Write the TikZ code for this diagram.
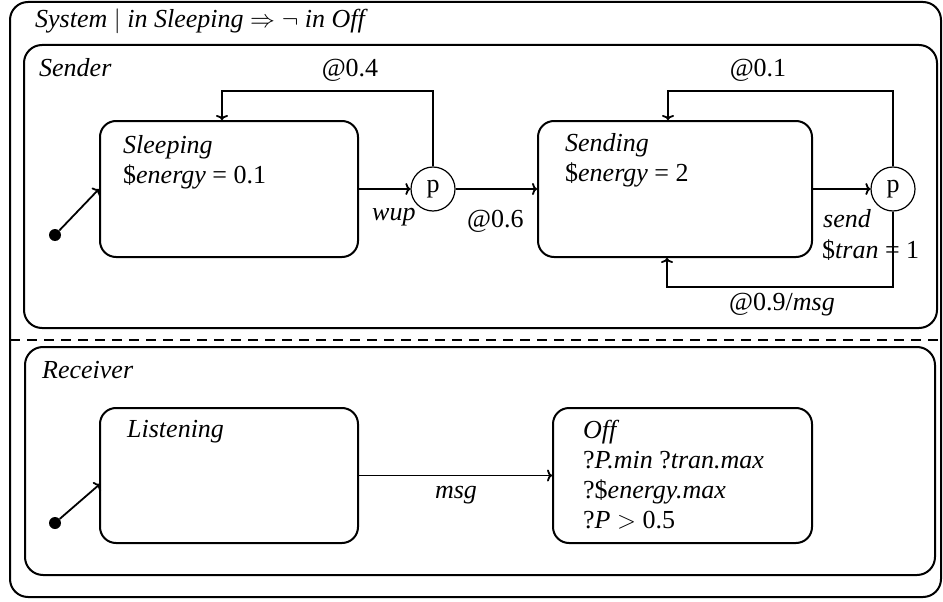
\documentclass[tikz,border=0pt]{standalone}
\usepackage{fontspec}
\setmainfont{Liberation Serif}
\usetikzlibrary{calc,arrows.meta}
\newcommand\bigfs{\fontsize{26}{30}\selectfont}
\begin{document}
\begin{tikzpicture}[x=1pt,y=-1pt,
  box/.style={draw, line width=2pt, rounded corners=16pt, inner sep=0pt},
  region/.style={draw, line width=2pt, rounded corners=18pt, inner sep=0pt},
  pnode/.style={draw, circle, line width=1.2pt, minimum size=44pt, inner sep=0pt, font=\bigfs},
  arr/.style={-{To[length=5pt,width=12pt]}, line width=1.8pt},
  txt/.style={inner sep=0pt, font=\bigfs, align=left},
  initdot/.style={fill, circle, inner sep=0pt, minimum size=12pt}]
\useasboundingbox (0,0) rectangle (943,602);
% containers
\node[region, minimum width=931pt, minimum height=595pt] (system) at (475.5,299.5) {};
\node[region, minimum width=913pt, minimum height=283pt] (sender) at (480.5,186.5) {};
\node[region, minimum width=910pt, minimum height=228pt] (receiver) at (480,461) {};
\coordinate (dl) at (10,340);
\coordinate (dr) at (943,340);
\draw[line width=1.8pt, dash pattern=on 10pt off 7pt] (dl) -- (dr);
% titles
\node[txt, anchor=base west] (systitle) at (35,28) {\textit{System} $|$ \textit{in Sleeping} $\Rightarrow\neg$ \textit{in Off}};
\node[txt, anchor=base west] (sendertitle) at (39,77) {\textit{Sender}};
\node[txt, anchor=base west] (receivertitle) at (42,378) {\textit{Receiver}};
% states
\node[box, minimum width=258pt, minimum height=136pt] (sleeping) at (229,189) {};
\node[box, minimum width=274pt, minimum height=136pt] (sending) at (675,189) {};
\node[box, minimum width=258pt, minimum height=135pt] (listening) at (229,475.5) {};
\node[box, minimum width=259pt, minimum height=135pt] (off) at (682.5,475.5) {};
\node[txt, anchor=north west] (sleepingtxt) at (123,135) {\textit{Sleeping}\\\$\textit{energy} = 0.1};
\node[txt, anchor=north west] (sendingtxt) at (565,133) {\textit{Sending}\\\$\textit{energy} = 2};
\node[txt, anchor=north west] (listeningtxt) at (127,420) {\textit{Listening}};
\node[txt, anchor=north west] (offtxt) at (583,420) {\textit{Off}\\?\textit{P.min} ?\textit{tran.max}\\?\$\textit{energy.max}\\?\textit{P} $>$ 0.5};
% probabilistic choice points
\node[pnode] (p1) at (433,189) {p};
\node[pnode] (p2) at (893,189) {p};
% initial states
\node[initdot] (i1) at (55,235) {};
\node[initdot] (i2) at (55,523) {};
\coordinate (li) at (100,484);
\draw[arr] (i1) -- (sleeping.west);
\draw[arr] (i2) -- (li);
% transitions
\coordinate (l1) at (222,91);
\coordinate (l2) at (668,91);
\coordinate (l3) at (667,287);
\draw[arr] (sleeping) -- (p1);
\draw[arr] (p1.north) |- (l1) -- (sleeping.north -| l1);
\draw[arr] (p1) -- (sending);
\draw[arr] (sending) -- (p2);
\draw[arr] (p2.north) |- (l2) -- (sending.north -| l2);
\draw[arr] (p2.south) |- (l3) -- (sending.south -| l3);
\draw[arr] (listening) -- (off);
% labels
\node[txt, anchor=base] (lab04) at (350,77) {@0.4};
\node[txt, anchor=base] (lab01) at (758,77) {@0.1};
\node[txt, anchor=base west] (labwup) at (372,220) {\textit{wup}};
\node[txt, anchor=base west] (lab06) at (467,227) {@0.6};
\node[txt, anchor=base west] (labsend) at (823,227) {\textit{send}};
\node[txt, anchor=base west] (labtran) at (822,258) {\$\textit{tran} = 1};
\node[txt, anchor=base] (lab09) at (782,310) {@0.9/\textit{msg}};
\node[txt, anchor=base] (labmsg) at (456,498) {\textit{msg}};
\end{tikzpicture}
\end{document}
